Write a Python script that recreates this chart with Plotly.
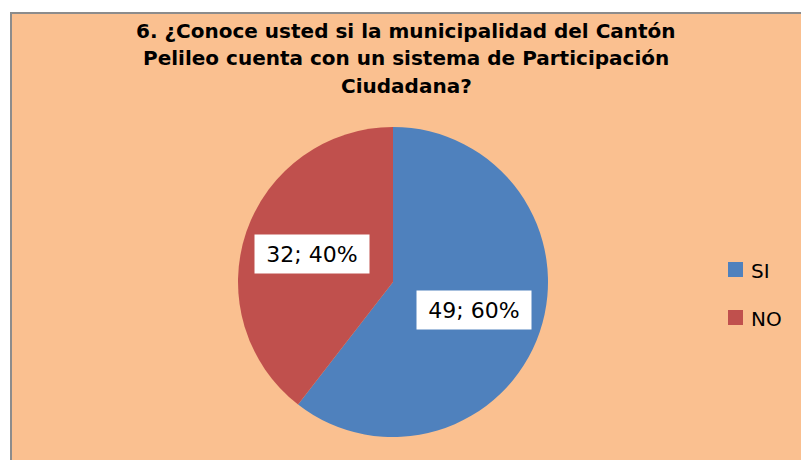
import math
import plotly.graph_objects as go

W, H = 801, 460

categories = ["SI", "NO"]
values = [49, 32]
percent_labels = ["60%", "40%"]
colors = ["#4F81BD", "#C0504D"]
title_lines = [
    "6. ¿Conoce usted si la municipalidad del Cantón",
    "Pelileo cuenta con un sistema de Participación",
    "Ciudadana?",
]

FONT = "DejaVu Sans, Arial, sans-serif"

# pie geometry in pixels
cx, cy, r = 393, 282, 155


def px_x(x):
    return x / W


def px_y(y):
    return 1 - y / H


fig = go.Figure()
fig.add_trace(go.Pie(
    labels=categories,
    values=values,
    sort=False,
    direction="clockwise",
    rotation=0,
    textinfo="none",
    hoverinfo="label+value+percent",
    marker=dict(colors=colors, line=dict(width=0)),
    domain=dict(x=[px_x(cx - r), px_x(cx + r)], y=[px_y(cy + r), px_y(cy - r)]),
    showlegend=False,
))

# data labels placed along each slice's mid-angle
total = sum(values)
cum = 0
annotations = []
for cat, v, p in zip(categories, values, percent_labels):
    mid = (cum + v / 2) / total * 2 * math.pi
    cum += v
    dx = math.sin(mid) * r * 0.555
    dy_down = -math.cos(mid) * r * 0.555
    annotations.append(dict(
        x=px_x(cx + dx), y=px_y(cy + dy_down), xref="paper", yref="paper",
        text=f"{v}; {p}", showarrow=False,
        font=dict(family=FONT, size=22, color="#000000"),
        bgcolor="#FFFFFF", width=114, height=38, borderpad=0,
        xanchor="center", yanchor="middle",
    ))

# title lines
for i, line in enumerate(title_lines):
    annotations.append(dict(
        x=px_x(406), y=px_y(31 + 27.5 * i), xref="paper", yref="paper",
        text=f"<b>{line}</b>", showarrow=False,
        font=dict(family=FONT, size=20, color="#000000"),
        xanchor="center", yanchor="middle",
    ))

shapes = [dict(
    type="rect", xref="paper", yref="paper",
    x0=px_x(11), y0=px_y(H + 5), x1=px_x(W + 5), y1=px_y(13),
    fillcolor="#FAC090", line=dict(color="#8C8C8C", width=2), layer="below",
)]

# manual legend
leg_y = [269.5, 317.5]
for cat, col, ly in zip(categories, colors, leg_y):
    shapes.append(dict(
        type="rect", xref="paper", yref="paper",
        x0=px_x(728), x1=px_x(743), y0=px_y(ly + 7.5), y1=px_y(ly - 7.5),
        fillcolor=col, line=dict(width=0),
    ))
    annotations.append(dict(
        x=px_x(749), y=px_y(ly + 1), xref="paper", yref="paper",
        text=cat, showarrow=False,
        font=dict(family=FONT, size=20, color="#000000"),
        xanchor="left", yanchor="middle",
    ))

fig.update_layout(
    width=W, height=H,
    margin=dict(l=0, r=0, t=0, b=0),
    paper_bgcolor="#FFFFFF",
    plot_bgcolor="#FFFFFF",
    annotations=annotations,
    shapes=shapes,
    showlegend=False,
)

fig.write_html(
    "out.html",
    config={"displayModeBar": False},
    post_script="document.body.style.margin='0';document.body.style.overflow='hidden';",
)
